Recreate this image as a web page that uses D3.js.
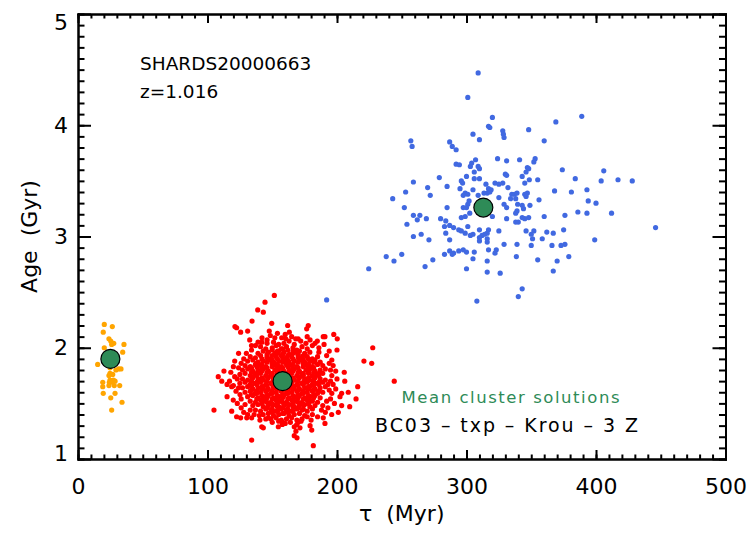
<!DOCTYPE html>
<html>
<head>
<meta charset="utf-8">
<script src="https://cdn.jsdelivr.net/npm/d3@7"></script>
<style>
  html, body { margin: 0; padding: 0; background: #fff; }
  svg text { font-family: "DejaVu Sans", sans-serif; fill: #000; }
</style>
</head>
<body>
<svg id="chart" width="754" height="533"></svg>
<script>
// Axis ticks
const tauTicks = [0, 100, 200, 300, 400, 500];
const ageTicks = [1, 2, 3, 4, 5];

// Labels
const objectName = "SHARDS20000663";
const redshiftLabel = "z=1.016";
const legendTitle = "Mean cluster solutions";
const modelLabel = "BC03 \u2013 txp \u2013 Krou \u2013 3 Z";

// Mean cluster solutions [tau (Myr), age (Gyr)]
const meanTau = [25, 158, 313];
const meanAge = [1.90, 1.70, 3.26];

// Cluster 1 (old, extended tau) [tau, age]
const bluePoints = [
  [309,4.47],[301,4.25],[320,4.07],[317,3.99],[318,3.98],[328,3.95],[328.5,3.92],[329,3.89],[305,3.92],[310,3.87],
  [257,3.86],[258,3.81],[287,3.85],[289,3.81],[292,3.78],[324,3.70],[331,3.68],[307,3.69],[292,3.65],[294.5,3.645],
  [304,3.66],[303,3.63],[309,3.63],[310,3.61],[306,3.58],[330,3.56],[331,3.55],[300,3.54],[279,3.53],[306,3.52],
  [310,3.52],[296,3.50],[297,3.48],[259,3.49],[322,3.48],[325,3.47],[328,3.48],[315,3.47],[285,3.45],[270,3.44],
  [295,3.43],[305,3.42],[317,3.43],[319,3.42],[316,3.39],[318,3.40],[313.5,3.39],[332,3.44],[253,3.40],[272,3.37],
  [299,3.39],[301,3.38],[297.5,3.37],[309,3.37],[335,3.38],[337,3.38],[243,3.34],[325,3.35],[334,3.34],[302,3.32],
  [301,3.29],[329,3.29],[331,3.26],[252,3.26],[285,3.26],[297.5,3.26],[300,3.26],[302.5,3.21],[264,3.19],[262,3.15],
  [259,3.19],[269,3.16],[280,3.16],[296,3.17],[299,3.18],[320,3.18],[331,3.16],[284,3.14],[283,3.09],[287,3.10],
  [254,3.11],[290,3.08],[294,3.06],[296,3.05],[299,3.03],[301,3.09],[310,3.06],[317,3.06],[316,3.03],[314,3.02],
  [325,3.05],[284,3.03],[305,3.02],[303,3.01],[312,3.01],[310,2.99],[265,3.02],[259,3.00],[271,2.97],[287,2.97],
  [316,2.98],[316,2.95],[310,2.96],[329,2.93],[287,2.87],[290,2.85],[294,2.87],[297.5,2.88],[300,2.86],[306,2.86],
  [317,2.88],[323,2.88],[322,2.85],[250,2.84],[283,2.84],[289,2.84],[238,2.82],[244,2.78],[274,2.79],[305,2.80],
  [316,2.78],[268,2.73],[300,2.71],[224.5,2.71],[316,2.68],[326,2.67],[308,2.42],[192,2.43],
  [389,4.08],[369,4.03],[348,3.96],[360,3.86],[341,3.69],[353,3.70],[352,3.67],[347,3.62],[348,3.61],[346,3.58],
  [374,3.60],[406,3.59],[343,3.54],[348.5,3.51],[355,3.51],[384,3.52],[404,3.50],[417,3.51],[428,3.50],[345,3.48],
  [368,3.41],[393,3.42],[381,3.40],[339,3.39],[345,3.38],[347,3.39],[346,3.36],[338,3.34],[356,3.33],[394,3.32],
  [400,3.30],[339.5,3.29],[343,3.28],[349,3.28],[344,3.25],[339,3.23],[338,3.21],[386,3.22],[393,3.21],[412,3.21],
  [360,3.18],[376,3.19],[348,3.17],[345,3.16],[343,3.17],[340,3.13],[338,3.13],[446,3.08],[375,3.06],[346,3.05],
  [352,3.05],[350,3.02],[351,2.98],[362,3.04],[367,3.03],[358.5,2.98],[399,2.97],[339,2.93],[350,2.92],[366,2.92],
  [373,2.92],[376,2.93],[338.5,2.82],[355,2.79],[370,2.78],[379,2.82],[367,2.69],[343,2.53],[340,2.46]
];

// Cluster 2 (intermediate) [tau, age]
const redPoints = [
  // dense core
  [151,2.05],[155,2.03],[159,2.04],[163,2.06],[167,2.03],
  [141,2.01],[145,1.99],[150,2.00],[153,2.02],[157,1.99],[161,2.01],[166,2.00],[169,1.98],[173,2.01],[177,1.99],
  [139,1.95],[143,1.97],[147,1.96],[152,1.95],[155,1.97],[159,1.96],[163,1.94],[168,1.96],[171,1.97],[175,1.95],[179,1.96],
  [133,1.92],[137,1.91],[141,1.93],[146,1.92],[149,1.90],[153,1.92],[157,1.93],[161,1.91],[165,1.92],[170,1.93],[173,1.91],[177,1.92],[181,1.90],[185,1.92],
  [131,1.88],[135,1.89],[139,1.87],[143,1.88],[148,1.89],[151,1.87],[155,1.88],[159,1.89],[163,1.87],[167,1.88],[172,1.89],[175,1.87],[179,1.88],[183,1.89],[187,1.87],
  [129,1.84],[133,1.83],[137,1.85],[141,1.84],[145,1.83],[150,1.85],[153,1.84],[157,1.83],[161,1.85],[165,1.84],[169,1.83],[174,1.85],[177,1.84],[181,1.83],[185,1.85],[189,1.84],
  [127,1.80],[131,1.81],[135,1.79],[139,1.80],[143,1.81],[147,1.79],[152,1.80],[155,1.81],[159,1.79],[163,1.80],[167,1.81],[171,1.79],[176,1.80],[179,1.81],[183,1.79],[187,1.80],[191,1.81],
  [125,1.76],[129,1.77],[133,1.75],[137,1.76],[141,1.77],[145,1.75],[149,1.76],[154,1.77],[157,1.75],[161,1.76],[165,1.77],[169,1.75],[173,1.76],[178,1.77],[181,1.75],[185,1.76],[189,1.77],
  [127,1.72],[131,1.71],[135,1.73],[139,1.72],[143,1.71],[147,1.73],[151,1.72],[155,1.71],[159,1.73],[163,1.72],[167,1.71],[171,1.73],[175,1.72],[179,1.71],[183,1.73],[187,1.72],[191,1.71],
  [125,1.68],[129,1.69],[133,1.67],[137,1.68],[141,1.69],[145,1.67],[149,1.68],[153,1.69],[157,1.67],[161,1.68],[165,1.69],[169,1.67],[173,1.68],[177,1.69],[181,1.67],[185,1.68],[189,1.69],[193,1.67],
  [127,1.64],[131,1.65],[135,1.63],[139,1.64],[143,1.65],[147,1.63],[151,1.64],[155,1.65],[159,1.63],[163,1.64],[167,1.65],[171,1.63],[175,1.64],[179,1.65],[183,1.63],[187,1.64],[191,1.65],
  [129,1.60],[133,1.61],[137,1.59],[141,1.60],[145,1.61],[149,1.59],[153,1.60],[157,1.61],[161,1.59],[165,1.60],[169,1.61],[173,1.59],[177,1.60],[181,1.61],[185,1.59],[189,1.60],
  [131,1.56],[135,1.57],[139,1.55],[143,1.56],[147,1.57],[151,1.55],[155,1.56],[159,1.57],[163,1.55],[167,1.56],[171,1.57],[175,1.55],[179,1.56],[183,1.57],[187,1.55],
  [133,1.52],[137,1.51],[141,1.53],[145,1.52],[149,1.51],[153,1.53],[157,1.52],[161,1.51],[165,1.53],[169,1.52],[173,1.51],[177,1.53],[181,1.52],[185,1.51],
  [135,1.48],[139,1.49],[143,1.47],[147,1.48],[151,1.49],[155,1.47],[159,1.48],[163,1.49],[167,1.47],[171,1.48],[175,1.49],[179,1.47],[183,1.48],
  [137,1.44],[141,1.43],[145,1.45],[149,1.44],[153,1.43],[157,1.45],[161,1.44],[165,1.43],[169,1.45],[173,1.44],[177,1.43],[181,1.45],
  [143,1.40],[147,1.41],[151,1.39],[155,1.40],[159,1.41],[163,1.39],[167,1.40],[171,1.41],[175,1.39],
  [149,1.36],[153,1.37],[157,1.35],[161,1.36],[165,1.37],[169,1.35],
  // inner core, in between the rows above
  [150,1.98],[154,1.97],[158,1.99],[162,1.98],[166,1.97],
  [146,1.94],[150,1.93],[154,1.95],[158,1.94],[162,1.93],[166,1.95],[170,1.94],[174,1.93],
  [142,1.90],[146,1.91],[150,1.89],[154,1.90],[158,1.91],[162,1.89],[166,1.90],[170,1.91],[174,1.89],[178,1.90],
  [138,1.86],[142,1.85],[146,1.87],[150,1.86],[154,1.85],[158,1.87],[162,1.86],[166,1.85],[170,1.87],[174,1.86],[178,1.85],[182,1.87],
  [134,1.82],[138,1.83],[142,1.81],[146,1.82],[150,1.83],[154,1.81],[158,1.82],[162,1.83],[166,1.81],[170,1.82],[174,1.83],[178,1.81],[182,1.82],
  [134,1.78],[138,1.77],[142,1.79],[146,1.78],[150,1.77],[154,1.79],[158,1.78],[162,1.77],[166,1.79],[170,1.78],[174,1.77],[178,1.79],[182,1.78],[186,1.77],
  [134,1.74],[138,1.75],[142,1.73],[146,1.74],[150,1.75],[154,1.73],[158,1.74],[162,1.75],[166,1.73],[170,1.74],[174,1.75],[178,1.73],[182,1.74],[186,1.75],
  [134,1.70],[138,1.69],[142,1.71],[146,1.70],[150,1.69],[154,1.71],[158,1.70],[162,1.69],[166,1.71],[170,1.70],[174,1.69],[178,1.71],[182,1.70],[186,1.69],
  [134,1.66],[138,1.67],[142,1.65],[146,1.66],[150,1.67],[154,1.65],[158,1.66],[162,1.67],[166,1.65],[170,1.66],[174,1.67],[178,1.65],[182,1.66],[186,1.67],
  [134,1.62],[138,1.61],[142,1.63],[146,1.62],[150,1.61],[154,1.63],[158,1.62],[162,1.61],[166,1.63],[170,1.62],[174,1.61],[178,1.63],[182,1.62],[186,1.61],
  [134,1.58],[138,1.59],[142,1.57],[146,1.58],[150,1.59],[154,1.57],[158,1.58],[162,1.59],[166,1.57],[170,1.58],[174,1.59],[178,1.57],[182,1.58],
  [138,1.54],[142,1.53],[146,1.55],[150,1.54],[154,1.53],[158,1.55],[162,1.54],[166,1.53],[170,1.55],[174,1.54],[178,1.53],[182,1.55],
  [142,1.50],[146,1.51],[150,1.49],[154,1.50],[158,1.51],[162,1.49],[166,1.50],[170,1.51],[174,1.49],[178,1.50],
  [146,1.46],[150,1.45],[154,1.47],[158,1.46],[162,1.45],[166,1.47],[170,1.46],[174,1.45],
  [150,1.42],[154,1.43],[158,1.41],[162,1.42],[166,1.43],
  // looser ring
  [124,1.95],[121,1.88],[120,1.83],[118,1.78],[121,1.74],[117,1.70],[120,1.66],[122,1.61],[123,1.50],[126,1.46],[128,1.42],[131,1.40],
  [190,2.03],[194,1.97],[192,1.93],[196,1.89],[197,1.84],[199,1.79],[196,1.75],[200,1.72],[197,1.67],[199,1.63],[196,1.59],[195,1.54],
  [198,1.50],[193,1.46],[191,1.42],[185,1.38],[180,1.35],
  [137,2.02],[142,2.05],[146,2.07],[152,2.09],[165,2.10],[172,2.06],[176,2.04],[181,2.02],[186,2.00],[134,1.98],[130,1.95],
  [140,1.39],[145,1.36],[150,1.33],[155,1.34],[160,1.32],[164,1.33],[173,1.36],[177,1.38],
  [128,1.90],[126,1.86],[124,1.82],[123,1.72],[124,1.64],[126,1.54],[129,1.49],[194,1.86],[195,1.80],[195,1.70],
  [194,1.62],[192,1.52],[189,1.48],[188,1.44],[133,1.44],[136,1.40],[147,1.37],[158,1.33],[170,1.33],[181,1.40],
  [186,1.96],[183,2.04],[139,2.05],[134,2.02],[146,2.04],[170,2.08],[160,2.12],[154,2.13],[177,2.10],
  // outskirts
  [151.6,2.47],[144.4,2.41],[138.8,2.34],[143.1,2.32],[134.4,2.24],[149.6,2.22],[121.2,2.19],[122.5,2.18],[125.6,2.14],[131,2.15],
  [161.9,2.20],[177.8,2.20],[176.6,2.17],[147.7,2.15],[148.5,2.11],[163.2,2.14],[197.5,2.12],[189.4,2.10],[190.7,2.10],[200.2,2.08],
  [132.6,2.07],[142.1,2.09],[157.3,2.09],[160.4,2.08],[168.1,2.08],[179.2,2.07],[184.8,2.06],[227.6,2.00],[200,1.98],[220.8,1.88],
  [226.8,1.86],[112.7,1.79],[108.3,1.74],[111,1.70],[205.6,1.78],[206,1.70],[216,1.65],[115.1,1.67],[118.7,1.65],[203.6,1.59],
  [202.3,1.56],[208.7,1.60],[214.7,1.54],[115.1,1.56],[119.9,1.53],[125.1,1.58],[105,1.44],[209.8,1.47],[203.6,1.48],[118.7,1.43],
  [122.5,1.38],[125.6,1.37],[130.3,1.37],[134.1,1.37],[201,1.42],[195.9,1.40],[189.4,1.37],[190.7,1.32],[140.5,1.35],[141.9,1.29],
  [143.1,1.28],[154.7,1.29],[157.8,1.31],[167,1.29],[168.9,1.31],[171.4,1.28],[179.2,1.30],[180.5,1.26],[172.2,1.34],[168.3,1.25],
  [167,1.21],[134.1,1.17],[169.1,1.19],[181.7,1.12],[244.2,1.70]
];

// Cluster 3 (young, short tau) [tau, age]
const orangePoints = [
  [20.3,2.21],[26.5,2.19],[19.5,2.14],[23.9,2.08],[25.3,2.06],[27.6,2.04],[26.0,2.03],[35.5,2.03],[20.3,2.00],[34.5,1.96],
  [15.2,1.85],[24.7,1.82],[31.4,1.81],[33.2,1.81],[29.3,1.80],[24.7,1.77],[23.9,1.75],[26.8,1.76],[24.7,1.71],[27.3,1.71],
  [24.2,1.69],[26.5,1.69],[28.6,1.70],[19.1,1.69],[19.1,1.65],[23.9,1.66],[28.0,1.66],[32.2,1.66],[19.5,1.59],[28.6,1.59],
  [25.3,1.55],[34.0,1.51],[26.0,1.44],[23,1.93],[27,1.88],[21,1.90]
];

const svg = d3.select("#chart");
const x = d3.scaleLinear().domain([0, 500]).range([78, 725.5]);
const y = d3.scaleLinear().domain([1, 5]).range([459, 14]);

const colors = { blue: "#4169e1", red: "#ff0000", orange: "#ffa500", mean: "#2e8b57" };

function drawDots(data, color) {
  svg.append("g")
    .selectAll("circle")
    .data(data)
    .join("circle")
    .attr("cx", d => x(d[0]))
    .attr("cy", d => y(d[1]))
    .attr("r", 2.6)
    .attr("fill", color);
}
drawDots(bluePoints, colors.blue);
drawDots(redPoints, colors.red);
drawDots(orangePoints, colors.orange);

// Mean solutions
svg.append("g")
  .selectAll("circle")
  .data(d3.zip(meanTau, meanAge))
  .join("circle")
  .attr("cx", d => x(d[0]))
  .attr("cy", d => y(d[1]))
  .attr("r", 9.5)
  .attr("fill", colors.mean)
  .attr("stroke", "#000")
  .attr("stroke-width", 1.2);

// Axes: inward major and minor ticks on all four sides
const minorTau = d3.range(0, 501, 10);
const minorAge = d3.range(10, 51).map(v => v / 10);

function styleAxis(g) {
  g.select(".domain").attr("stroke", "#000").attr("stroke-width", 2).attr("stroke-linecap", "square");
  g.selectAll(".tick line").attr("stroke", "#000").attr("stroke-width", 2);
  g.selectAll(".tick text").attr("font-size", 22).attr("fill", "#000").attr("font-family", "DejaVu Sans, sans-serif");
}

const axisBottomG = svg.append("g").attr("transform", `translate(0,${y(1)})`);
axisBottomG.append("g").call(d3.axisBottom(x).tickValues(minorTau).tickSize(-4.5).tickSizeOuter(0).tickFormat("")).call(styleAxis);
axisBottomG.append("g").call(d3.axisBottom(x).tickValues(tauTicks).tickSize(-9).tickSizeOuter(0).tickPadding(19).tickFormat(d3.format("d"))).call(styleAxis);

const axisTopG = svg.append("g").attr("transform", `translate(0,${y(5)})`);
axisTopG.append("g").call(d3.axisTop(x).tickValues(minorTau).tickSize(-4.5).tickSizeOuter(0).tickFormat("")).call(styleAxis);
axisTopG.append("g").call(d3.axisTop(x).tickValues(tauTicks).tickSize(-9).tickSizeOuter(0).tickFormat("")).call(styleAxis);

const axisLeftG = svg.append("g").attr("transform", `translate(${x(0)},0)`);
axisLeftG.append("g").call(d3.axisLeft(y).tickValues(minorAge).tickSize(-6.5).tickSizeOuter(0).tickFormat("")).call(styleAxis);
const leftMajor = axisLeftG.append("g").call(d3.axisLeft(y).tickValues(ageTicks).tickSize(-13).tickSizeOuter(0).tickPadding(10).tickFormat(d3.format("d"))).call(styleAxis);
leftMajor.selectAll(".tick text").filter(d => d === 5).attr("dy", "15px");
leftMajor.selectAll(".tick text").filter(d => d === 1).attr("dy", "1px");

const axisRightG = svg.append("g").attr("transform", `translate(${x(500)},0)`);
axisRightG.append("g").call(d3.axisRight(y).tickValues(minorAge).tickSize(-6.5).tickSizeOuter(0).tickFormat("")).call(styleAxis);
axisRightG.append("g").call(d3.axisRight(y).tickValues(ageTicks).tickSize(-13).tickSizeOuter(0).tickFormat("")).call(styleAxis);

// Axis titles
svg.append("text")
  .attr("x", (x(0) + x(500)) / 2)
  .attr("y", 521)
  .attr("text-anchor", "middle")
  .attr("font-size", 22)
  .attr("xml:space", "preserve")
  .text("\u03c4  (Myr)");

svg.append("text")
  .attr("transform", `translate(37,${(y(1) + y(5)) / 2}) rotate(-90)`)
  .attr("text-anchor", "middle")
  .attr("font-size", 22)
  .attr("xml:space", "preserve")
  .text("Age  (Gyr)");

// Annotations
svg.append("text").attr("x", 140).attr("y", 70).attr("font-size", 18.5).text(objectName);
svg.append("text").attr("x", 140).attr("y", 98).attr("font-size", 18.5).text(redshiftLabel);

svg.append("text")
  .attr("x", 401.5).attr("y", 403)
  .attr("font-size", 16.5)
  .attr("textLength", 218)
  .attr("lengthAdjust", "spacing")
  .style("fill", colors.mean)
  .text(legendTitle);

svg.append("text")
  .attr("x", 375).attr("y", 432)
  .attr("font-size", 19)
  .attr("textLength", 263)
  .attr("lengthAdjust", "spacing")
  .attr("xml:space", "preserve")
  .text(modelLabel);
</script>
</body>
</html>
